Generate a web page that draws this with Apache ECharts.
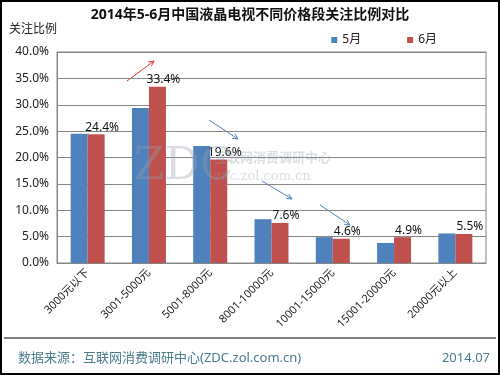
<!DOCTYPE html>
<html>
<head>
<meta charset="utf-8">
<script src="https://cdn.jsdelivr.net/npm/echarts@6/dist/echarts.min.js"></script>
<style>
  html, body { margin: 0; padding: 0; background: #fff; }
  #main { width: 500px; height: 375px; }
</style>
</head>
<body>
<div id="main"></div>
<script>
// price bands and share of attention (%)
var categories = ['3000元以下', '3001-5000元', '5001-8000元', '8001-10000元', '10001-15000元', '15001-20000元', '20000元以上'];
var may = [24.5, 29.4, 22.2, 8.3, 4.9, 3.8, 5.6];
var june = [24.4, 33.4, 19.6, 7.6, 4.6, 4.9, 5.5];

var font = '"Noto Sans", "Noto Sans CJK SC", sans-serif';
var chart = echarts.init(document.getElementById('main'));

function arrow(x1, y1, x2, y2, color) {
  var a = Math.atan2(y2 - y1, x2 - x1), L = 6, w = 0.45;
  return {
    type: 'group', silent: true, z: 20,
    children: [
      { type: 'line', shape: { x1: x1, y1: y1, x2: x2, y2: y2 }, style: { stroke: color, lineWidth: 1 } },
      { type: 'polyline', shape: { points: [
        [x2 - L * Math.cos(a - w), y2 - L * Math.sin(a - w)], [x2, y2],
        [x2 - L * Math.cos(a + w), y2 - L * Math.sin(a + w)]] }, style: { stroke: color, lineWidth: 1, fill: null } }
    ]
  };
}

chart.setOption({
  backgroundColor: '#fff',
  animation: false,
  title: {
    text: '2014年5-6月中国液晶电视不同价格段关注比例对比',
    left: 'center', top: 3,
    textStyle: { fontFamily: font, fontSize: 14, fontWeight: 'bold', color: '#111' }
  },
  legend: {
    right: 58, top: 29,
    itemWidth: 6, itemHeight: 6, itemGap: 46,
    icon: 'rect',
    textStyle: { fontFamily: font, fontSize: 12, color: '#222' },
    data: ['5月', '6月']
  },
  grid: { left: 57, right: 14, top: 52, bottom: 112, show: true, borderColor: '#868686', borderWidth: 1 },
  xAxis: {
    type: 'category', data: categories,
    axisLine: { lineStyle: { color: '#868686' } },
    axisTick: { lineStyle: { color: '#868686' }, length: 4 },
    axisLabel: { rotate: 45, fontFamily: font, fontSize: 11, color: '#222', margin: 8, interval: 0 }
  },
  yAxis: {
    type: 'value', min: 0, max: 40, interval: 5,
    name: '关注比例', nameLocation: 'end', nameGap: 16,
    nameTextStyle: { fontFamily: font, fontSize: 12, color: '#222', align: 'right', padding: [0, 0, 0, 0] },
    axisLine: { show: true, lineStyle: { color: '#868686' } },
    axisTick: { show: false },
    splitLine: { lineStyle: { color: '#868686' } },
    axisLabel: { formatter: function (v) { return v.toFixed(1) + '%'; }, fontFamily: font, fontSize: 12, color: '#222', margin: 8 }
  },
  series: [
    { name: '5月', type: 'bar', data: may, barWidth: 17, barGap: '0%', itemStyle: { color: '#4F81BD' } },
    { name: '6月', type: 'bar', data: june, barWidth: 17, itemStyle: { color: '#C0504D' },
      label: { show: true, position: 'top', distance: 1, offset: [6, 0], formatter: function (p) { return p.value.toFixed(1) + '%'; },
        fontFamily: font, fontSize: 12, color: '#111' } }
  ],
  graphic: [
    { type: 'rect', silent: true, z: 30, shape: { x: 1, y: 1, width: 498, height: 373 }, style: { fill: null, stroke: '#000', lineWidth: 2 } },
    { type: 'line', silent: true, shape: { x1: 4, y1: 338, x2: 496, y2: 338 }, style: { stroke: '#000', lineWidth: 1 } },
    { type: 'text', left: 18, top: 352, style: { text: '数据来源：互联网消费调研中心(ZDC.zol.com.cn)', font: '13px ' + font, fill: '#4A7B8C' } },
    { type: 'text', right: 10, top: 352, style: { text: '2014.07', font: '13px ' + font, fill: '#4A7B8C' } },
    // watermark
    { type: 'text', silent: true, z: 10, left: 134, top: 146, style: { text: 'ZDC', font: '44px "DejaVu Serif", serif', fill: 'rgba(150,160,175,0.35)' } },
    { type: 'text', silent: true, z: 10, left: 214, top: 151, style: { text: '互联网消费调研中心', font: 'bold 13px "Noto Sans CJK SC", sans-serif', fill: 'rgba(150,160,175,0.35)' } },
    { type: 'text', silent: true, z: 10, left: 214, top: 170, style: { text: 'zdc.zol.com.cn', font: '13px "DejaVu Serif", serif', fill: 'rgba(150,160,175,0.35)' } },
    arrow(127, 81, 154, 61, '#E03030'),
    arrow(209, 120, 238, 139, '#4F81BD'),
    arrow(262, 181, 292, 199, '#4F81BD'),
    arrow(320, 205, 350, 225, '#4F81BD')
  ]
});
</script>
</body>
</html>
